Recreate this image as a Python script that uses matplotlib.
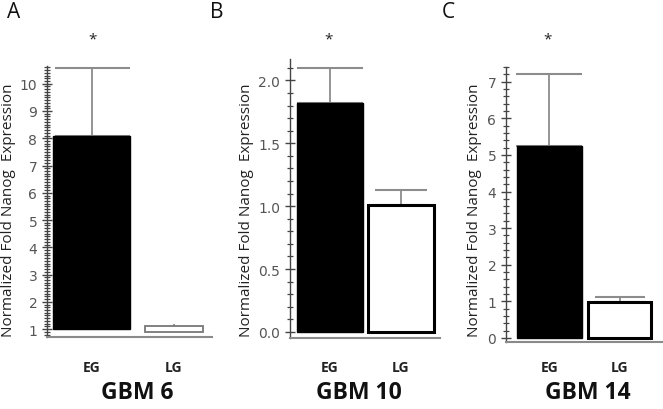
import matplotlib.pyplot as plt
from matplotlib.ticker import MultipleLocator

# data ========================================================================
groups = ["EG", "LG"]
panel_letters = ["A", "B", "C"]
panel_titles = ["GBM 6", "GBM 10", "GBM 14"]

means_a = [8.1, 1.1]
bottoms_a = [1.0, 0.9]
err_a = [2.46, 0.1]

means_b = [1.82, 1.01]
err_b = [0.28, 0.12]

means_c = [5.25, 0.98]
err_c = [1.95, 0.15]

ylabel = "Normalized Fold Nanog  Expression"

# layout (pixels) ==============================================================
W, H = 663, 410
fig = plt.figure(figsize=(W / 100, H / 100), dpi=100)


def px_axes(left, right, top, bottom):
    return fig.add_axes([left / W, (H - bottom) / H, (right - left) / W, (bottom - top) / H])


tick_font = dict(family=["Liberation Sans Narrow", "DejaVu Sans"], size=10, color="#555555")


def style_axis(ax, major, minor, fmt):
    for s in ["top", "right"]:
        ax.spines[s].set_visible(False)
    ax.spines["bottom"].set_color("#8a8a8a")
    ax.spines["bottom"].set_linewidth(1.5)
    ax.spines["left"].set_color("#444444")
    ax.spines["left"].set_linewidth(1.0)
    ax.yaxis.set_major_locator(MultipleLocator(major))
    ax.yaxis.set_minor_locator(MultipleLocator(minor))
    ax.yaxis.set_major_formatter(fmt)
    ax.tick_params(axis="y", which="major", direction="inout", length=7, width=1, color="#444444")
    ax.tick_params(axis="y", which="minor", direction="inout", length=5, width=0.9, color="#444444")
    ax.set_xticks([])
    for lab in ax.get_yticklabels():
        lab.set_fontfamily(tick_font["family"])
        lab.set_fontsize(tick_font["size"])
        lab.set_color(tick_font["color"])


def draw_panel(ax, means, errs, bottoms, widths, capsizes, face, edge, lws):
    x = range(len(means))
    for i in x:
        ax.bar(i, means[i] - bottoms[i], bottom=bottoms[i], width=widths[i],
               color=face[i], edgecolor=edge[i], linewidth=lws[i], zorder=2)
        ax.errorbar(i, means[i], yerr=[[0], [errs[i]]], fmt="none", ecolor="#8c8c8c",
                    elinewidth=1.3, capsize=capsizes[i], capthick=1.5, zorder=1)


# A
axA = px_axes(47, 212, 67, 338)
draw_panel(axA, means_a, err_a, bottoms_a, [0.93, 0.70], [27, 0],
           ["black", "white"], ["black", "#777777"], [1, 1.3])
axA.set_xlim(-0.54, 1.46)
axA.set_ylim(0.71, 10.65)
style_axis(axA, 1, 0.1, "{x:.0f}")
axA.set_yticks(range(1, 11))

# B
axB = px_axes(290, 440, 60, 339)
draw_panel(axB, means_b, err_b, [0, 0], [0.93, 0.93], [24, 19],
           ["black", "white"], ["black", "black"], [1, 2.2])
axB.set_xlim(-0.56, 1.55)
axB.set_ylim(-0.048, 2.17)
style_axis(axB, 0.5, 0.1, "{x:.1f}")

# C
axC = px_axes(506, 663, 68, 343)
draw_panel(axC, means_c, err_c, [0, 0], [0.92, 0.90], [24, 18],
           ["black", "white"], ["black", "black"], [1, 2.2])
axC.set_xlim(-0.62, 1.62)
axC.set_ylim(-0.11, 7.40)
style_axis(axC, 1, 0.2, "{x:.0f}")

# texts =======================================================================
label_font = ["Open Sans", "DejaVu Sans"]
for ax, ylx in zip([axA, axB, axC], [9, 247, 474]):
    fig.text(ylx / W, 1 - 210 / H, ylabel, rotation=90, ha="center", va="center",
             family=label_font, size=11, color="#222222")
    for i, g in enumerate(groups):
        xd = ax.transData.transform((i, 0))[0]
        fig.text(xd / W, 1 - 368 / H, g, ha="center", va="center",
                 family=label_font, weight="bold", size=10, color="#222222")

for xp, letter in zip([14, 217, 448], panel_letters):
    fig.text(xp / W, 1 - 13 / H, letter, ha="center", va="center",
             family=label_font, size=15, color="#111111")

for xp, title in zip([137, 359, 588], panel_titles):
    fig.text(xp / W, 1 - 393 / H, title, ha="center", va="center",
             family=label_font, weight="bold", size=16.5, color="#111111")

for xp in [93, 329, 548]:
    fig.text(xp / W, 1 - 40 / H, "*", ha="center", va="center",
             family=label_font, size=11, color="#222222")

fig.savefig("out.png", dpi=100)
